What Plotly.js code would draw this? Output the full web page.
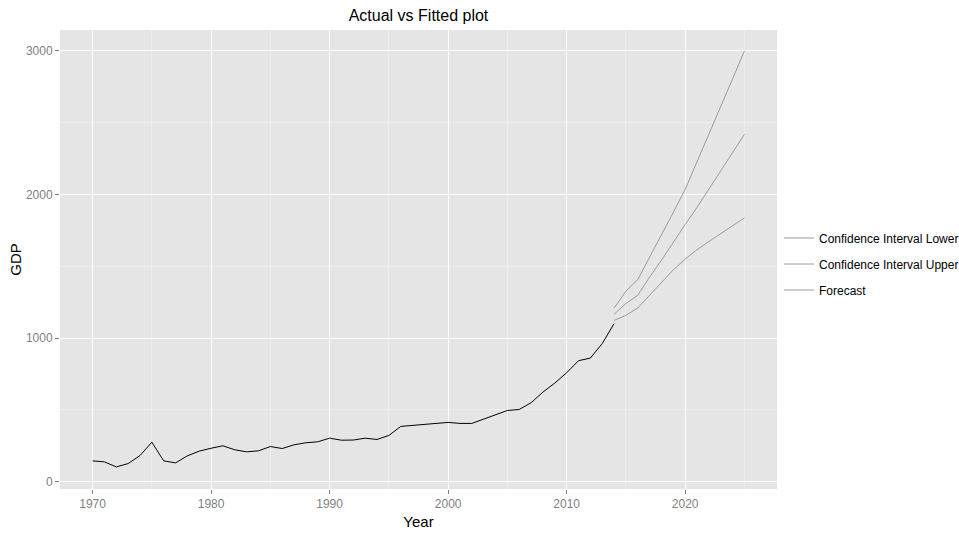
<!DOCTYPE html>
<html>
<head>
<meta charset="utf-8">
<script src="https://cdn.plot.ly/plotly-3.0.1.min.js"></script>
<style>
  html, body { margin: 0; padding: 0; background: #ffffff; }
  #chart { width: 959px; height: 535px; }
</style>
</head>
<body>
<div id="chart"></div>
<script>
// ---- data ----
const actualYears = [1970,1971,1972,1973,1974,1975,1976,1977,1978,1979,
                     1980,1981,1982,1983,1984,1985,1986,1987,1988,1989,
                     1990,1991,1992,1993,1994,1995,1996,1997,1998,1999,
                     2000,2001,2002,2003,2004,2005,2006,2007,2008,2009,
                     2010,2011,2012,2013,2014];
const actualGDP = [144,137,102,125,181,274,144,130,179,212,
                   232,249,221,207,214,244,230,256,270,277,
                   302,288,289,302,293,321,384,391,398,400,
                   412,405,405,435,465,495,502,549,623,686,
                   758,842,860,961,1100];

const forecastYears = [2014,2015,2016,2017,2018,2019,2020,2021,2022,2023,2024,2025];
const ciLower  = [1123,1158,1209,1300,1390,1475,1550,1615,1672,1727,1782,1837];
const ciUpper  = [1209,1326,1407,1560,1715,1875,2035,2225,2420,2615,2805,3000];
const forecast = [1165,1240,1298,1425,1542,1670,1791,1910,2035,2160,2290,2419];

const seriesNames = ['Confidence Interval Lower','Confidence Interval Upper','Forecast'];
const xTickVals = [1970,1980,1990,2000,2010,2020];
const yTickVals = [0,1000,2000,3000];

// ---- chart ----
const FONT = '"Liberation Sans", Arial, sans-serif';
const greyLine = '#9a9a9a';

const traces = [
  {
    x: actualYears, y: actualGDP, type: 'scatter', mode: 'lines',
    line: {color: '#000000', width: 1}, showlegend: false, name: 'Actual',
    hoverinfo: 'x+y'
  },
  {
    x: forecastYears, y: ciLower, type: 'scatter', mode: 'lines',
    name: seriesNames[0], legendgroup: 'a',
    line: {color: greyLine, width: 1}
  },
  {
    x: forecastYears, y: ciUpper, type: 'scatter', mode: 'lines',
    name: seriesNames[1], legendgroup: 'b',
    line: {color: greyLine, width: 1}
  },
  {
    x: forecastYears, y: forecast, type: 'scatter', mode: 'lines',
    name: seriesNames[2], legendgroup: 'c',
    line: {color: greyLine, width: 1}
  }
];

const layout = {
  width: 959, height: 535,
  margin: {l: 60, r: 182, t: 30, b: 46, autoexpand: false},
  paper_bgcolor: '#ffffff',
  plot_bgcolor: '#E5E5E5',
  font: {family: FONT, size: 12, color: '#000000'},
  title: {
    text: 'Actual vs Fitted plot',
    font: {family: FONT, size: 16, color: '#000000'},
    x: 0.5, xref: 'paper', xanchor: 'center',
    y: 0.972, yref: 'container', yanchor: 'middle'
  },
  xaxis: {
    range: [1967.25, 2027.75],
    tickmode: 'array', tickvals: xTickVals,
    ticks: 'outside', ticklen: 4, tickwidth: 1, tickcolor: '#7F7F7F',
    tickfont: {family: FONT, size: 12, color: '#7F7F7F'},
    showgrid: true, gridcolor: '#FFFFFF', gridwidth: 1,
    minor: {dtick: 5, tick0: 1965, showgrid: true, gridcolor: '#F2F2F2', gridwidth: 0.6, ticks: ''},
    zeroline: false, showline: false,
    title: {text: 'Year', font: {family: FONT, size: 15, color: '#000000'}, standoff: 6}
  },
  yaxis: {
    range: [-52, 3146],
    tickmode: 'array', tickvals: yTickVals,
    ticks: 'outside', ticklen: 4, tickwidth: 1, tickcolor: '#7F7F7F',
    tickfont: {family: FONT, size: 12, color: '#7F7F7F'},
    showgrid: true, gridcolor: '#FFFFFF', gridwidth: 1,
    minor: {dtick: 500, tick0: 0, showgrid: true, gridcolor: '#F2F2F2', gridwidth: 0.6, ticks: ''},
    zeroline: false, showline: false,
    title: {text: 'GDP', font: {family: FONT, size: 15, color: '#000000'}, standoff: 0}
  },
  legend: {
    x: 0.8123, xanchor: 'left', xref: 'container',
    y: 0.5065, yanchor: 'middle', yref: 'container',
    bgcolor: 'rgba(0,0,0,0)', borderwidth: 0,
    font: {family: FONT, size: 12, color: '#000000'},
    itemwidth: 30, tracegroupgap: 7, traceorder: 'grouped'
  },
  showlegend: true
};

Plotly.newPlot('chart', traces, layout, {displayModeBar: false, staticPlot: true});
</script>
</body>
</html>
